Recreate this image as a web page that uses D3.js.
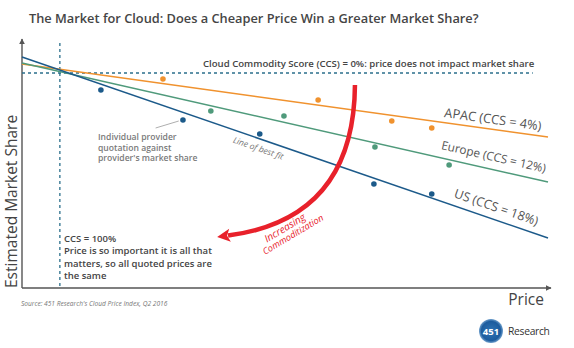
<!DOCTYPE html>
<html>
<head>
<meta charset="utf-8">
<script src="https://cdn.jsdelivr.net/npm/d3@7"></script>
<style>
  html, body { margin: 0; padding: 0; background: #fff; }
  svg { display: block; font-family: "Open Sans", "DejaVu Sans", sans-serif; }
</style>
</head>
<body>
<svg id="chart" width="574" height="348"></svg>
<script>
// Regions and their best-fit lines (price 0-100 vs estimated share 0-100)
const regions = ["APAC", "Europe", "US"];
const regionLabels = ["APAC (CCS = 4%)", "Europe (CCS = 12%)", "US (CCS = 18%)"];
const fitStart = [89.6, 90.0, 92.4];   // share at price 0
const fitEnd = [60.4, 42.4, 20.0];     // share at price 100

// Individual provider quotations: [price, share]
const apacPoints = [[26.8, 83.6], [56.3, 75.2], [70.3, 66.8], [77.9, 64.0]];
const europePoints = [[35.9, 70.8], [49.8, 68.8], [67.1, 56.4], [81.2, 49.2]];
const usPoints = [[15.0, 79.2], [30.6, 67.2], [45.2, 61.6], [66.9, 41.6], [77.9, 37.6]];

// Reference lines: CCS = 0% (flat share) and CCS = 100% (single price)
const ccsZeroShare = 86;
const ccsFullPrice = 7.2;

// Increasing-commoditization arc: start, control, end in [price, share]
const arcPoints = [[63.3, 81.2], [63.1, 27.6], [37.1, 20.4]];

const colors = { APAC: "#f0922e", Europe: "#4f9a7b", US: "#1c5a8a" };
const pointsByRegion = { APAC: apacPoints, Europe: europePoints, US: usPoints };

const svg = d3.select("#chart");
const x = d3.scaleLinear().domain([0, 100]).range([22, 548]);
const y = d3.scaleLinear().domain([0, 100]).range([288, 38]);

// Fit a text element's font size so it spans the given width
function fitWidth(sel, width) {
  const node = sel.node();
  const fs = parseFloat(sel.attr("font-size"));
  const w = node.getComputedTextLength();
  sel.attr("font-size", (fs * width / w).toFixed(2));
}

// Title
const title = svg.append("text")
  .attr("x", 29).attr("y", 23)
  .attr("font-size", 14).attr("font-weight", 600)
  .attr("fill", "#454545")
  .text("The Market for Cloud: Does a Cheaper Price Win a Greater Market Share?");
fitWidth(title, 450);

// Arrow marker for the axes
const defs = svg.append("defs");
defs.append("marker")
  .attr("id", "axisArrow").attr("viewBox", "0 0 10 10")
  .attr("refX", 9).attr("refY", 5)
  .attr("markerWidth", 6).attr("markerHeight", 6)
  .attr("markerUnits", "userSpaceOnUse")
  .attr("orient", "auto")
  .append("path").attr("d", "M0,0L10,5L0,10Z").attr("fill", "#555");

// Axes
svg.append("line")
  .attr("x1", x(0)).attr("y1", y(0)).attr("x2", x(0)).attr("y2", y(100) + 1)
  .attr("stroke", "#555").attr("stroke-width", 1.4)
  .attr("marker-end", "url(#axisArrow)");
svg.append("line")
  .attr("x1", x(0)).attr("y1", y(0)).attr("x2", x(100) + 3).attr("y2", y(0))
  .attr("stroke", "#555").attr("stroke-width", 1.4)
  .attr("marker-end", "url(#axisArrow)");

// Dashed reference lines
svg.append("line")
  .attr("x1", x(0)).attr("x2", x(97.1))
  .attr("y1", y(ccsZeroShare)).attr("y2", y(ccsZeroShare))
  .attr("stroke", "#2b6f8c").attr("stroke-width", 1.3)
  .attr("stroke-dasharray", "3,3");
svg.append("line")
  .attr("x1", x(ccsFullPrice)).attr("x2", x(ccsFullPrice))
  .attr("y1", y(98)).attr("y2", y(0))
  .attr("stroke", "#2b6f8c").attr("stroke-width", 1.3)
  .attr("stroke-dasharray", "3,3");

// Best-fit lines
regions.forEach((r, i) => {
  svg.append("line")
    .attr("x1", x(0)).attr("y1", y(fitStart[i]))
    .attr("x2", x(100)).attr("y2", y(fitEnd[i]))
    .attr("stroke", colors[r]).attr("stroke-width", 1.5);
});

// Provider points
regions.forEach(r => {
  svg.append("g").selectAll("circle")
    .data(pointsByRegion[r]).join("circle")
    .attr("cx", d => x(d[0])).attr("cy", d => y(d[1]))
    .attr("r", 2.8).attr("fill", colors[r]);
});

// Region labels along their fit lines
const labelStart = [[80.2, 68.4], [79.6, 55.6], [82.0, 36.4]];
const labelWidth = [98, 107, 88];
regions.forEach((r, i) => {
  const slope = (y(fitEnd[i]) - y(fitStart[i])) / (x(100) - x(0));
  const angle = Math.atan(slope) * 180 / Math.PI;
  const px = x(labelStart[i][0]), py = y(labelStart[i][1]);
  const t = svg.append("text")
    .attr("transform", `translate(${px},${py}) rotate(${angle})`)
    .attr("font-size", 12).attr("fill", "#555")
    .text(regionLabels[i]);
  fitWidth(t, labelWidth[i]);
});

// "Line of best fit" label under the US line
{
  const slope = (y(fitEnd[2]) - y(fitStart[2])) / (x(100) - x(0));
  const angle = Math.atan(slope) * 180 / Math.PI;
  svg.append("text")
    .attr("transform", `translate(${x(40.0)},${y(58.2)}) rotate(${angle})`)
    .attr("font-size", 8.5).attr("font-style", "italic").attr("fill", "#777")
    .text("Line of best fit");
}

// Provider annotation with pointer
svg.append("line")
  .attr("x1", x(25.4)).attr("y1", y(64.0))
  .attr("x2", x(29.8)).attr("y2", y(66.8))
  .attr("stroke", "#999").attr("stroke-width", 0.8);
const provLines = ["Individual provider", "quotation against", "provider's market share"];
svg.append("g").selectAll("text")
  .data(provLines).join("text")
  .attr("x", 98).attr("y", (d, i) => 140 + i * 10.5)
  .attr("font-size", 8.6).attr("font-weight", 600).attr("fill", "#7a7a7a")
  .text(d => d);

// CCS = 0% caption
svg.append("text")
  .attr("x", 203).attr("y", 67)
  .attr("font-size", 9.6).attr("font-weight", 600).attr("fill", "#444")
  .text("Cloud Commodity Score (CCS) = 0%: price does not impact market share");

// CCS = 100% caption
const ccsText = svg.append("text").attr("font-size", 9.5).attr("font-weight", 600).attr("fill", "#444");
["CCS = 100%", "Price is so important it is all that", "matters, so all quoted prices are", "the same"]
  .forEach((t, i) => {
    ccsText.append("tspan").attr("x", 64).attr("y", 242 + i * 12.3).text(t);
  });

// Increasing-commoditization arrow
{
  const [p0, c, p2] = arcPoints.map(d => [x(d[0]), y(d[1])]);
  const dx = p2[0] - c[0], dy = p2[1] - c[1];
  const len = Math.hypot(dx, dy);
  const ux = dx / len, uy = dy / len;
  const headLen = 13, headW = 6.5;
  const base = [p2[0] - ux * headLen, p2[1] - uy * headLen];
  const path = d3.path();
  path.moveTo(p0[0], p0[1]);
  path.quadraticCurveTo(c[0], c[1], base[0] + ux * 2, base[1] + uy * 2);
  svg.append("path").attr("d", path.toString())
    .attr("fill", "none").attr("stroke", "#e8212b").attr("stroke-width", 4.5);
  const head = d3.path();
  head.moveTo(p2[0], p2[1]);
  head.lineTo(base[0] - uy * headW, base[1] + ux * headW);
  head.lineTo(base[0] + ux * 3, base[1] + uy * 3);
  head.lineTo(base[0] + uy * headW, base[1] - ux * headW);
  head.closePath();
  svg.append("path").attr("d", head.toString()).attr("fill", "#e8212b");
}
const commodG = svg.append("g").attr("transform", "translate(265,255) rotate(-31)");
const inc = commodG.append("text").attr("x", 8).attr("y", -9.5)
  .attr("font-size", 9.6).attr("font-style", "italic").attr("fill", "#e8212b")
  .text("Increasing");
fitWidth(inc, 46);
const com = commodG.append("text").attr("x", 0).attr("y", 0)
  .attr("font-size", 9.6).attr("font-style", "italic").attr("fill", "#e8212b")
  .text("Commoditization");
fitWidth(com, 69);

// Axis titles
svg.append("text")
  .attr("transform", `translate(17,${y(0)}) rotate(-90)`)
  .attr("font-size", 15.5).attr("fill", "#444")
  .text("Estimated Market Share");
svg.append("text")
  .attr("x", x(100) - 4).attr("y", 305)
  .attr("text-anchor", "end")
  .attr("font-size", 15.5).attr("fill", "#444")
  .text("Price");

// Source note
svg.append("text")
  .attr("x", 21).attr("y", 306)
  .attr("font-size", 6.6).attr("font-style", "italic").attr("fill", "#777")
  .text("Source: 451 Research's Cloud Price Index, Q2 2016");

// Brand mark
defs.append("radialGradient").attr("id", "logoGrad")
  .selectAll("stop").data([["0%", "#2f74b5"], ["80%", "#1c5c9e"], ["100%", "#6f9fcc"]])
  .join("stop").attr("offset", d => d[0]).attr("stop-color", d => d[1]);
svg.append("circle").attr("cx", 491).attr("cy", 331).attr("r", 12)
  .attr("fill", "url(#logoGrad)");
svg.append("text").attr("x", 491).attr("y", 334.5)
  .attr("text-anchor", "middle").attr("font-size", 9.5).attr("font-weight", 700)
  .attr("fill", "#fff").text("451");
svg.append("text").attr("x", 508).attr("y", 335)
  .attr("font-size", 10.3).attr("fill", "#333").attr("letter-spacing", -0.3)
  .text("Research");
</script>
</body>
</html>
